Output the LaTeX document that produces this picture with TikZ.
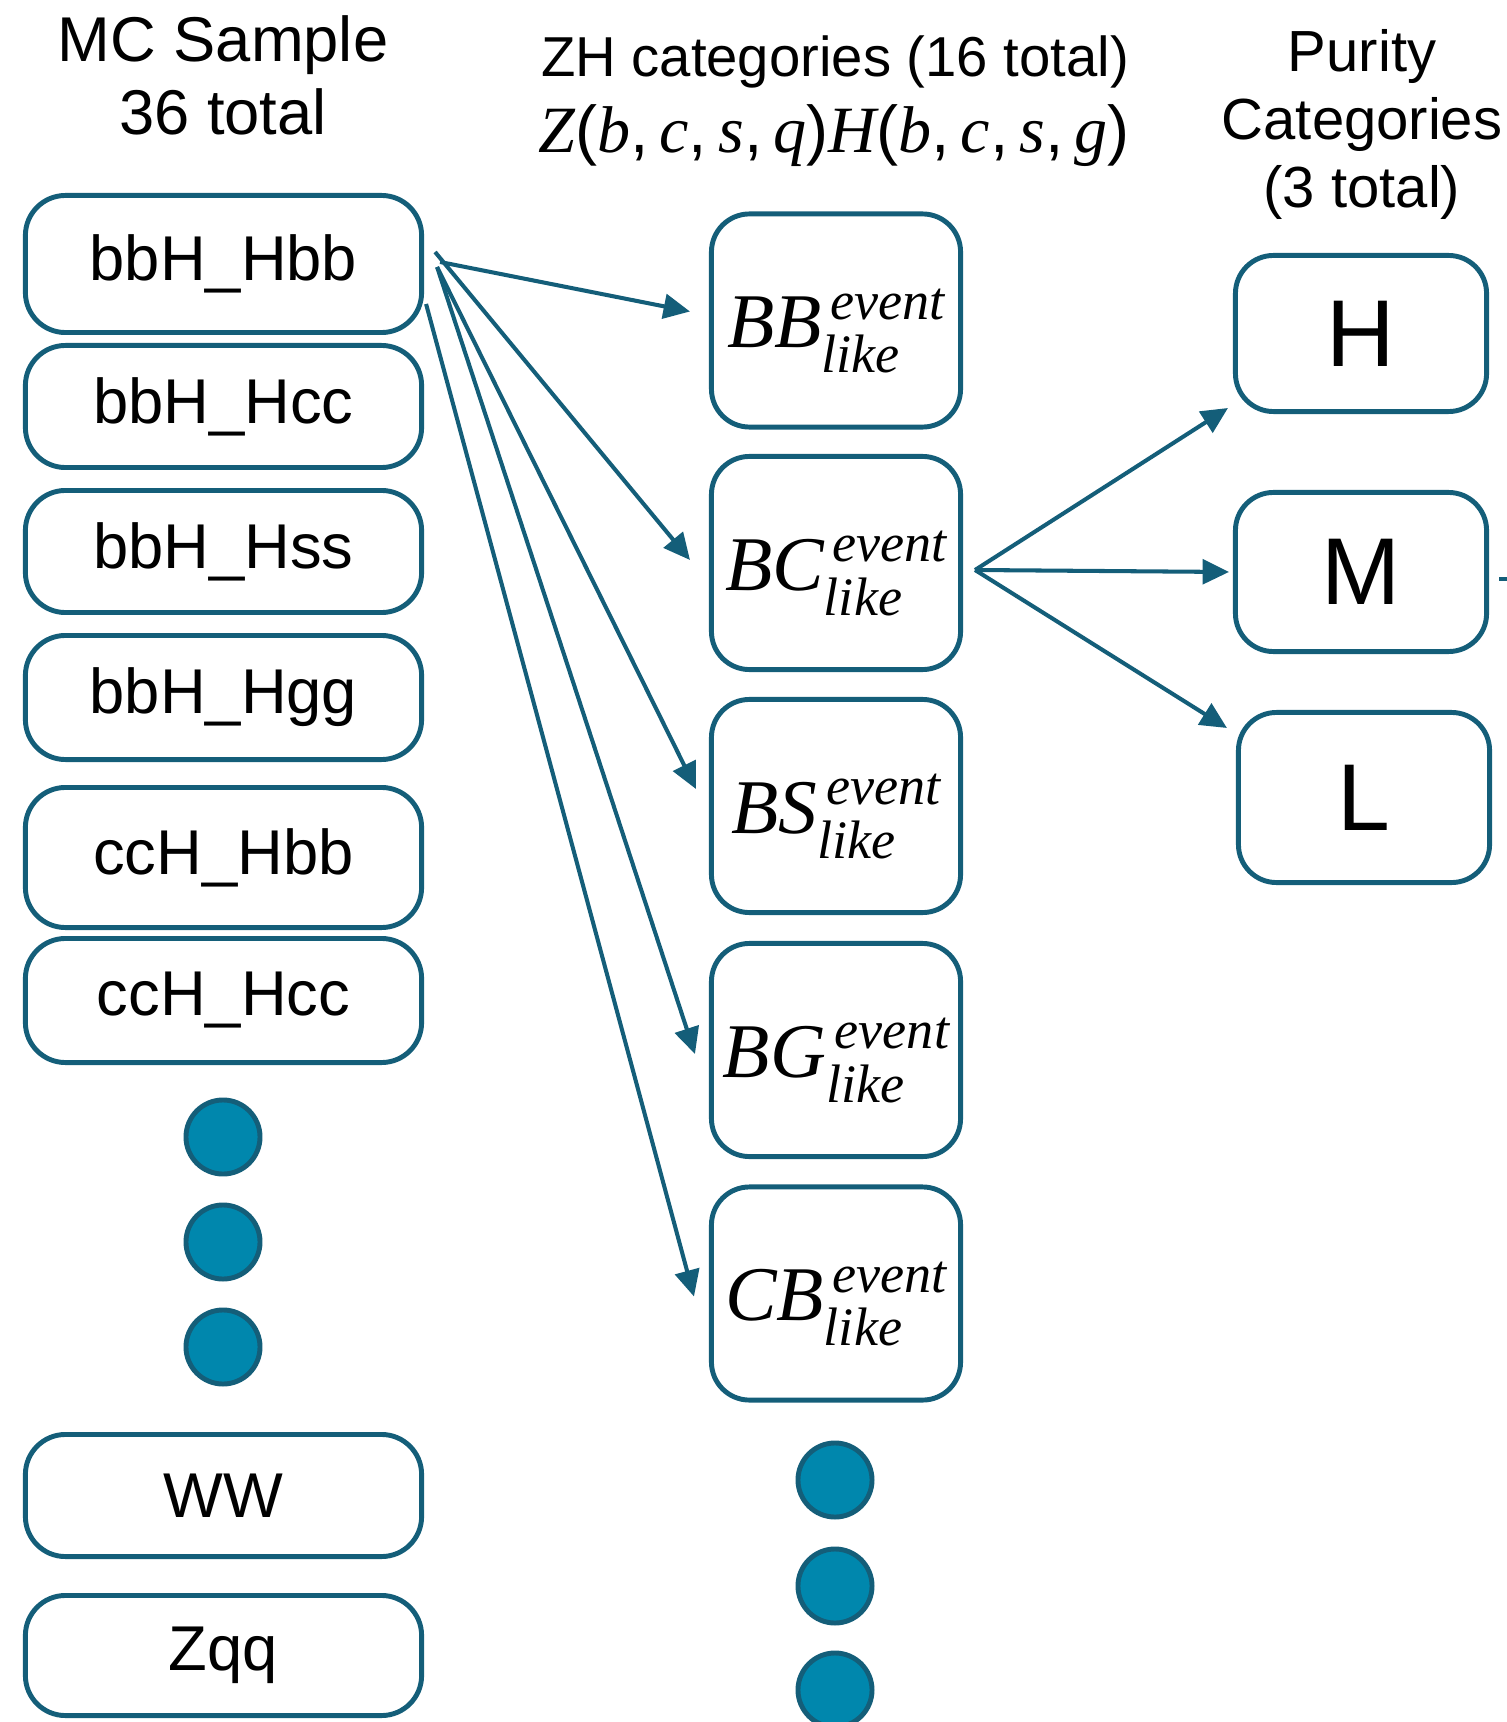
\documentclass[tikz,border=0pt]{standalone}
\usepackage{fontspec}
\setmainfont{Liberation Sans}
\newfontfamily\mathserif{Liberation Serif}
\usetikzlibrary{arrows.meta, calc, positioning}

\definecolor{boxline}{RGB}{20,94,121}
\definecolor{dotfill}{RGB}{0,135,173}

% italic serif letters, as in the math of the slides
\newcommand{\mi}[1]{{\mathserif\itshape #1}}
\newcommand{\smallmi}[1]{{\fontsize{15.4}{16}\selectfont\mi{#1}}}
% category symbol with stacked "event" / "like"
\newcommand{\evtlike}[1]{\mi{#1}\kern1pt%
    \rlap{\kern1.5pt\raisebox{8pt}{\smallmi{event}}}%
    \rlap{\kern-1pt\raisebox{-7.1pt}{\smallmi{like}}}%
    \hphantom{\smallmi{event}}\kern1.5pt}

\tikzset{
    sample/.style={draw=boxline, line width=1.4pt, rounded corners=0.4cm,
        minimum width=3.96cm, inner sep=0pt, font=\fontsize{18}{20}\selectfont},
    zhcat/.style={draw=boxline, line width=1.4pt, rounded corners=0.38cm,
        minimum width=2.49cm, minimum height=2.13cm, inner sep=0pt,
        text height=22.5pt, text depth=7.1pt, font=\fontsize{22}{24}\selectfont},
    puritycat/.style={draw=boxline, line width=1.4pt, rounded corners=0.38cm,
        minimum width=2.51cm, inner sep=0pt, font=\fontsize{27}{30}\selectfont},
    moredots/.style={circle, draw=boxline, fill=dotfill, line width=1.4pt,
        minimum size=0.74cm, inner sep=0pt},
    flow/.style={draw=boxline, line width=1.15pt, -{Triangle[length=7.5pt,width=7pt]}},
    colhead/.style={anchor=base, inner sep=0pt}
}

\begin{document}
\begin{tikzpicture}[x=0.01cm, y=-0.01cm]
    \useasboundingbox (0,0) rectangle (1507,1722);
    \clip (0,0) rectangle (1507,1722);

    % column headings
    \node[colhead, font=\fontsize{18}{20}\selectfont] (mchead) at (223,62) {MC Sample};
    \node[colhead, font=\fontsize{18}{20}\selectfont] (mctotal) at (223,135) {36 total};
    \node[colhead, font=\fontsize{16}{18}\selectfont] (zhhead) at (835,77) {ZH categories (16 total)};
    \node[colhead, font=\fontsize{18.8}{20}\selectfont] (zhmath) at (834,153)
        {\mi{Z}(\mi{b},\,\mi{c},\,\mi{s},\,\mi{q})\mi{H}(\mi{b},\,\mi{c},\,\mi{s},\,\mi{g})};
    \node[colhead, font=\fontsize{16.5}{18}\selectfont] (purhead) at (1362,72) {Purity};
    \node[colhead, font=\fontsize{16.5}{18}\selectfont] (purhead2) at (1362,140) {Categories};
    \node[colhead, font=\fontsize{16.5}{18}\selectfont] (purtotal) at (1362,208) {(3 total)};

    % MC samples
    \node[sample, minimum height=1.37cm] (bbHbb) at (223.5,264) {bbH\_Hbb};
    \node[sample, minimum height=1.22cm] (bbHcc) at (223.5,406.5) {bbH\_Hcc};
    \node[sample, minimum height=1.22cm] (bbHss) at (223.5,551.5) {bbH\_Hss};
    \node[sample, minimum height=1.24cm] (bbHgg) at (223.5,697.5) {bbH\_Hgg};
    \node[sample, minimum height=1.40cm] (ccHbb) at (223.5,857.5) {ccH\_Hbb};
    \node[sample, minimum height=1.24cm] (ccHcc) at (223.5,1000.5) {ccH\_Hcc};
    \node[moredots] (mcdot1) at (223,1137) {};
    \node[moredots] (mcdot2) at (223,1242) {};
    \node[moredots] (mcdot3) at (223,1347) {};
    \node[sample, minimum height=1.22cm] (WW) at (223.5,1495.5) {WW};
    \node[sample, minimum height=1.20cm] (Zqq) at (223.5,1655.5) {Zqq};

    % ZH categories
    \node[zhcat] (BB) at (836,320.5) {\evtlike{BB}};
    \node[zhcat] (BC) at (836,563) {\evtlike{BC}};
    \node[zhcat] (BS) at (836,806) {\evtlike{BS}};
    \node[zhcat] (BG) at (836,1050) {\evtlike{BG}};
    \node[zhcat] (CB) at (836,1293.5) {\evtlike{CB}};
    \node[moredots] (zhdot1) at (835,1480) {};
    \node[moredots] (zhdot2) at (835,1586) {};
    \node[moredots] (zhdot3) at (835,1690) {};

    % purity categories
    \node[puritycat, minimum height=1.56cm] (H) at (1361,333.5) {H};
    \node[puritycat, minimum height=1.59cm] (M) at (1361,572) {M};
    \node[puritycat, minimum height=1.70cm] (L) at (1364,797.5) {L};

    % bbH_Hbb goes to every ZH category
    \coordinate (hbbout) at ($(bbHbb.east)+(13,3)$);
    \coordinate (hbbout2) at ($(bbHbb.east)+(2,40)$);
    \draw[flow] ($(bbHbb.east)+(16,-2)$) -- ($(BB.west)+(-19,-9)$);
    \draw[flow] ($(bbHbb.east)+(11,-12)$) -- ($(BC.west)+(-19,-3)$);
    \draw[flow] (hbbout) -- ($(BS.west)+(-13,-17)$);
    \draw[flow] (hbbout) -- ($(BG.west)+(-14,4)$);
    \draw[flow] (hbbout2) -- ($(CB.west)+(-15,3)$);

    % BC split into purity
    \coordinate (bcout) at ($(BC.east)+(12,7)$);
    \draw[flow] (bcout) -- ($(H.south west)+(-5,-6)$);
    \draw[flow] (bcout) -- ($(M.west)+(-4,0)$);
    \draw[flow] (bcout) -- ($(L.north west)+(-9,18)$);
    \coordinate (mout) at ($(M.east)+(10,7)$);
    \draw[flow] (mout) -- ++(60,0);
\end{tikzpicture}
\end{document}
